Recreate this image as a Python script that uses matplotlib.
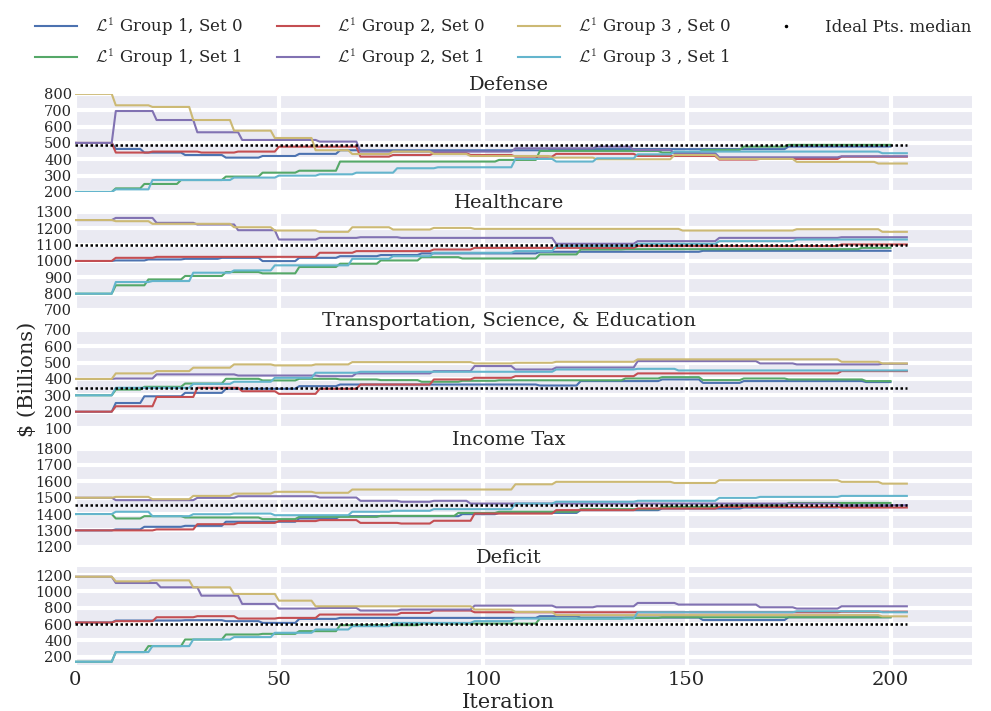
import numpy as np
import matplotlib.pyplot as plt
from matplotlib.lines import Line2D
from matplotlib.ticker import MultipleLocator

# last iteration reached by each run (group 1 stops earlier)
last_iter = [200, 200, 204, 204, 204, 204]

labels = [r"$\mathcal{L}^1$ Group 1, Set 0", r"$\mathcal{L}^1$ Group 1, Set 1",
          r"$\mathcal{L}^1$ Group 2, Set 0", r"$\mathcal{L}^1$ Group 2, Set 1",
          r"$\mathcal{L}^1$ Group 3 , Set 0", r"$\mathcal{L}^1$ Group 3 , Set 1"]
colors = ["#4C72B0", "#55A868", "#C44E52", "#8172B2", "#CCB974", "#64B5CD"]

titles = ["Defense", "Healthcare", "Transportation, Science, & Education",
          "Income Tax", "Deficit"]
medians = [488, 1095, 345, 1455, 607]
ylims = [(200, 800), (700, 1300), (100, 700), (1200, 1800), (100, 1300)]
ysteps = [100, 100, 100, 100, 200]

# (iteration where the value changes, new value) for each run
defense = [
    [(0, 500), (10, 463), (17, 441), (27, 426), (37, 410), (46, 420), (55, 433),
     (65, 455), (117, 462), (175, 478)],
    [(0, 200), (10, 222), (17, 249), (26, 273), (37, 294), (46, 318), (55, 330),
     (65, 386), (104, 396), (114, 451), (144, 441), (154, 457), (164, 477), (175, 488)],
    [(0, 500), (10, 441), (19, 447), (31, 441), (40, 447), (50, 477), (70, 416),
     (78, 426), (88, 437), (97, 426), (108, 416), (118, 433), (138, 420), (158, 398),
     (168, 402), (188, 416)],
    [(0, 500), (10, 695), (20, 640), (30, 565), (41, 518), (60, 508), (70, 447),
     (108, 467), (128, 477), (137, 457), (147, 437), (158, 412), (188, 418)],
    [(0, 800), (10, 730), (19, 720), (29, 640), (39, 575), (49, 530), (59, 455),
     (68, 432), (78, 447), (88, 432), (97, 420), (117, 410), (128, 400), (147, 426),
     (158, 402), (177, 384), (197, 374)],
    [(0, 200), (10, 216), (19, 273), (39, 288), (50, 300), (60, 308), (69, 318),
     (79, 345), (89, 351), (108, 402), (118, 386), (128, 406), (138, 430), (147, 447),
     (198, 437)],
]
healthcare = [
    [(0, 1000), (10, 1003), (18, 1009), (27, 1013), (36, 1019), (46, 999), (55, 1019),
     (65, 1029), (75, 1036), (85, 1046), (114, 1056), (154, 1062)],
    [(0, 800), (10, 851), (18, 887), (27, 908), (37, 932), (46, 924), (55, 963),
     (65, 983), (75, 1003), (85, 1023), (95, 1015), (114, 1040), (124, 1070),
     (135, 1072), (193, 1080)],
    [(0, 1000), (10, 1019), (20, 1025), (60, 1050), (69, 1060), (88, 1070), (98, 1080),
     (138, 1091), (188, 1101)],
    [(0, 1250), (10, 1263), (20, 1233), (30, 1223), (40, 1188), (50, 1131), (60, 1141),
     (70, 1145), (80, 1141), (118, 1105), (138, 1121), (158, 1141), (188, 1145)],
    [(0, 1250), (10, 1243), (19, 1227), (39, 1206), (49, 1186), (60, 1178), (68, 1206),
     (78, 1192), (88, 1202), (98, 1196), (149, 1186), (177, 1194), (198, 1178)],
    [(0, 800), (10, 871), (19, 877), (29, 928), (39, 942), (49, 973), (68, 1013),
     (78, 1029), (88, 1050), (108, 1060), (118, 1091), (138, 1105), (158, 1121),
     (177, 1131)],
]
transport = [
    [(0, 200), (10, 253), (17, 294), (27, 315), (37, 340), (55, 356), (65, 366),
     (114, 360), (124, 387), (144, 397), (154, 376), (164, 387), (194, 381)],
    [(0, 300), (10, 335), (17, 352), (27, 372), (37, 401), (46, 391), (55, 401),
     (65, 397), (75, 393), (85, 383), (95, 389), (104, 392), (135, 403), (144, 411),
     (154, 393), (164, 403), (175, 397), (194, 387)],
    [(0, 200), (10, 233), (20, 290), (30, 346), (41, 325), (50, 309), (60, 340),
     (70, 366), (88, 397), (98, 407), (108, 417), (138, 434), (188, 448)],
    [(0, 400), (10, 403), (20, 428), (40, 421), (60, 417), (69, 434), (88, 448),
     (98, 479), (108, 458), (118, 470), (138, 509), (168, 495), (177, 489), (198, 493)],
    [(0, 400), (10, 434), (20, 448), (29, 469), (39, 489), (49, 483), (59, 489),
     (68, 503), (98, 495), (108, 499), (118, 505), (138, 520), (188, 505), (198, 495)],
    [(0, 300), (10, 346), (29, 370), (39, 383), (49, 407), (59, 438), (70, 444),
     (118, 458), (138, 462), (148, 452)],
]
income_tax = [
    [(0, 1300), (10, 1306), (17, 1322), (27, 1328), (37, 1353), (55, 1373), (65, 1387),
     (95, 1399), (104, 1407), (124, 1424), (144, 1434), (164, 1440), (188, 1450)],
    [(0, 1400), (10, 1373), (17, 1387), (27, 1379), (46, 1369), (55, 1383), (75, 1389),
     (94, 1407), (104, 1414), (124, 1430), (144, 1444), (160, 1454), (175, 1468)],
    [(0, 1300), (20, 1306), (30, 1338), (40, 1346), (50, 1357), (60, 1363), (70, 1346),
     (80, 1342), (88, 1359), (98, 1403), (118, 1424), (138, 1434), (158, 1444),
     (188, 1440)],
    [(0, 1500), (10, 1485), (30, 1499), (40, 1509), (60, 1501), (70, 1481), (80, 1475),
     (88, 1481), (97, 1464), (188, 1454)],
    [(0, 1500), (10, 1505), (19, 1491), (29, 1511), (39, 1525), (49, 1536), (59, 1530),
     (68, 1550), (108, 1582), (118, 1597), (147, 1590), (158, 1607), (188, 1597),
     (198, 1586)],
    [(0, 1400), (10, 1414), (19, 1387), (29, 1399), (39, 1403), (49, 1393), (68, 1414),
     (78, 1420), (88, 1430), (108, 1464), (118, 1475), (138, 1481), (158, 1499),
     (168, 1505), (188, 1511)],
]
deficit = [
    [(0, 620), (10, 644), (27, 648), (37, 636), (46, 615), (55, 664), (65, 676),
     (114, 697), (124, 680), (154, 650), (175, 684)],
    [(0, 140), (10, 258), (18, 331), (27, 412), (37, 473), (46, 481), (55, 514),
     (65, 587), (85, 607), (114, 668), (135, 676), (144, 684)],
    [(0, 620), (10, 636), (20, 684), (30, 697), (40, 668), (50, 676), (60, 717),
     (80, 737), (88, 766), (98, 745), (188, 752)],
    [(0, 1180), (10, 1103), (21, 1050), (31, 948), (41, 847), (50, 790), (60, 798),
     (70, 766), (80, 778), (98, 826), (118, 806), (128, 818), (138, 859), (148, 839),
     (168, 806), (177, 790), (188, 818)],
    [(0, 1180), (10, 1123), (19, 1135), (29, 1050), (39, 969), (50, 887), (59, 818),
     (98, 778), (108, 749), (118, 710), (198, 695)],
    [(0, 140), (10, 258), (19, 331), (29, 412), (39, 441), (49, 494), (59, 534),
     (68, 575), (78, 615), (98, 636), (108, 668), (138, 745), (177, 757), (198, 745)],
]
panels = [defense, healthcare, transport, income_tax, deficit]


def hold(steps, last):
    """Per-iteration values: each value is kept until the next change."""
    vals = np.empty(last + 1)
    for start, v in steps:
        vals[start:] = v
    return vals


plt.rcParams.update({
    "font.family": ["DejaVu Serif"],
    "mathtext.fontset": "cm",
    "text.color": "0.15",
    "xtick.color": "0.15",
    "ytick.color": "0.15",
})

fig = plt.figure(figsize=(9.91, 7.11), dpi=100)
bottoms = [0.730, 0.564, 0.398, 0.231, 0.0647]
for i, (title, runs) in enumerate(zip(titles, panels)):
    ax = fig.add_axes([0.0757, bottoms[i], 0.9052, 0.138])
    ax.set_facecolor("#EAEAF2")
    for s in ax.spines.values():
        s.set_visible(False)
    ax.grid(True, color="white", lw=3)
    ax.set_axisbelow(True)
    for steps, last, c in zip(runs, last_iter, colors):
        ax.plot(np.arange(last + 1), hold(steps, last), color=c, lw=1.5)
    ax.plot(np.arange(205), np.full(205, medians[i]), color="black",
            ls=(0, (1, 1)), lw=1.8)
    ax.set_xlim(0, 220)
    ax.set_ylim(*ylims[i])
    ax.xaxis.set_major_locator(MultipleLocator(50))
    ax.yaxis.set_major_locator(MultipleLocator(ysteps[i]))
    ax.tick_params(length=0, pad=2, labelsize=10.5)
    ax.tick_params(axis="x", pad=4, labelsize=14)
    if i < 4:
        ax.tick_params(axis="x", labelbottom=False)
    ax.set_title(title, x=0.484, pad=1, fontsize=14)

fig.text(0.028, 0.466, "$ (Billions)", rotation=90, ha="center", va="center",
         fontsize=15)
fig.text(0.513, 0.0125, "Iteration", ha="center", va="center", fontsize=15)

handles = [Line2D([], [], color=c, lw=1.5) for c in colors]
handles.append(Line2D([], [], color="black", marker=".", markersize=3, ls="none"))
fig.legend(handles, labels + ["Ideal Pts. median"], loc="upper center",
           bbox_to_anchor=(0.508, 1.0), ncol=4, frameon=False, fontsize=12,
           handlelength=2.5, columnspacing=2.0, labelspacing=0.5,
           handletextpad=1.1)

fig.savefig("out.png", dpi=100)
